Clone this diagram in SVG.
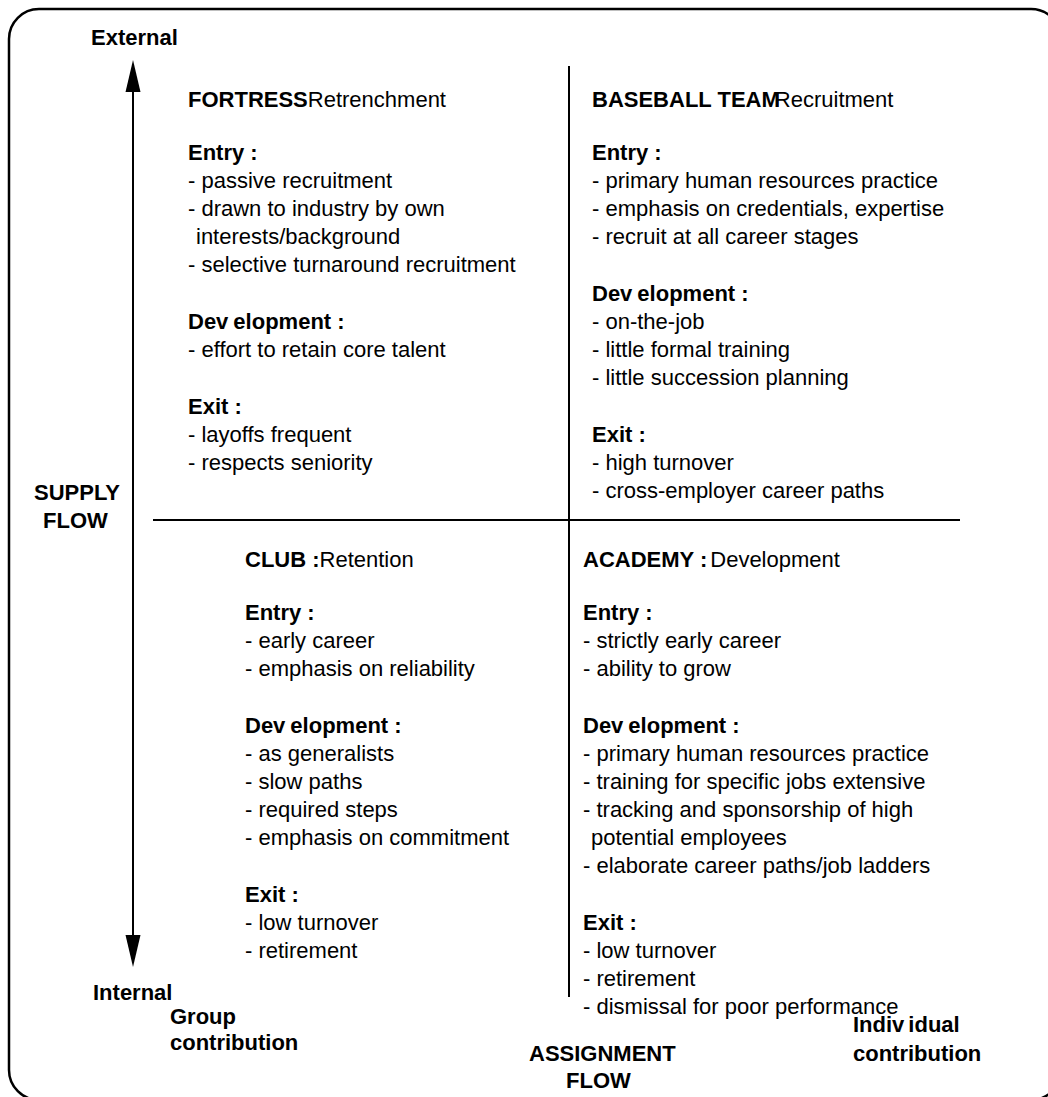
<svg xmlns="http://www.w3.org/2000/svg" width="1048" height="1097" viewBox="0 0 1048 1097">
  <defs>
    <style>
      text { font-family: "Liberation Sans", Arial, Helvetica, sans-serif; font-size: 22px; fill: #000; }
      .b { font-weight: bold; }
      .rule { stroke: #000; stroke-width: 2; fill: none; }
      .frame { stroke: #000; stroke-width: 2.5; fill: #fff; }
    </style>
    <marker id="head" viewBox="0 0 32 16" markerWidth="32" markerHeight="16" refX="0" refY="8" orient="auto-start-reverse" markerUnits="userSpaceOnUse">
      <path d="M0,0.5 L32,8 L0,15.5 z" fill="#000"/>
    </marker>
  </defs>

  <!-- outer rounded frame (runs past the right and bottom edges) -->
  <rect id="frame" class="frame" x="9" y="9" width="1052" height="1091" rx="30" ry="30"/>

  <!-- axes and quadrant dividers -->
  <g id="connectors">
    <line id="supply-axis" class="rule" x1="133" y1="92" x2="133" y2="935" marker-start="url(#head)" marker-end="url(#head)"/>
    <line id="divider-v" class="rule" x1="569" y1="66" x2="569" y2="997"/>
    <line id="divider-h" class="rule" x1="153" y1="520" x2="960" y2="520"/>
  </g>

  <!-- axis labels -->
  <g id="label-external"><text class="b" x="91" y="45">External</text></g>
  <g id="label-supply">
    <text class="b" x="34" y="500">SUPPLY</text>
    <text class="b" x="43" y="528">FLOW</text>
  </g>
  <g id="label-internal"><text class="b" x="93" y="1000">Internal</text></g>
  <g id="label-group">
    <text class="b" x="170" y="1024">Group</text>
    <text class="b" x="170" y="1050">contribution</text>
  </g>
  <g id="label-assignment">
    <text class="b" x="529" y="1061">ASSIGNMENT</text>
    <text class="b" x="566" y="1088">FLOW</text>
  </g>
  <g id="label-individual">
    <text class="b" x="853" y="1032">Indiv<tspan dx="4">idual</tspan></text>
    <text class="b" x="853" y="1061">contribution</text>
  </g>

  <!-- top-left quadrant -->
  <g id="fortress">
    <text x="188" y="107"><tspan class="b">FORTRESS</tspan>Retrenchment</text>
    <text class="b" x="188" y="160">Entry :</text>
    <text x="188" y="188">- passive recruitment</text>
    <text x="188" y="216">- drawn to industry by own</text>
    <text x="196" y="244">interests/background</text>
    <text x="188" y="272">- selective turnaround recruitment</text>
    <text class="b" x="188" y="329">Dev<tspan dx="5">elopment :</tspan></text>
    <text x="188" y="357">- effort to retain core talent</text>
    <text class="b" x="188" y="414">Exit :</text>
    <text x="188" y="442">- layoffs frequent</text>
    <text x="188" y="470">- respects seniority</text>
  </g>

  <!-- top-right quadrant -->
  <g id="baseball-team">
    <text x="592" y="107"><tspan class="b">BASEBALL TEAM</tspan><tspan dx="-5">Recruitment</tspan></text>
    <text class="b" x="592" y="160">Entry :</text>
    <text x="592" y="188">- primary human resources practice</text>
    <text x="592" y="216">- emphasis on credentials, expertise</text>
    <text x="592" y="244">- recruit at all career stages</text>
    <text class="b" x="592" y="301">Dev<tspan dx="5">elopment :</tspan></text>
    <text x="592" y="329">- on-the-job</text>
    <text x="592" y="357">- little formal training</text>
    <text x="592" y="385">- little succession planning</text>
    <text class="b" x="592" y="442">Exit :</text>
    <text x="592" y="470">- high turnover</text>
    <text x="592" y="498">- cross-employer career paths</text>
  </g>

  <!-- bottom-left quadrant -->
  <g id="club">
    <text x="245" y="567"><tspan class="b">CLUB :</tspan>Retention</text>
    <text class="b" x="245" y="620">Entry :</text>
    <text x="245" y="648">- early career</text>
    <text x="245" y="676">- emphasis on reliability</text>
    <text class="b" x="245" y="733">Dev<tspan dx="5">elopment :</tspan></text>
    <text x="245" y="761">- as generalists</text>
    <text x="245" y="789">- slow paths</text>
    <text x="245" y="817">- required steps</text>
    <text x="245" y="845">- emphasis on commitment</text>
    <text class="b" x="245" y="902">Exit :</text>
    <text x="245" y="930">- low turnover</text>
    <text x="245" y="958">- retirement</text>
  </g>

  <!-- bottom-right quadrant -->
  <g id="academy">
    <text x="583" y="567"><tspan class="b">ACADEMY :</tspan><tspan dx="3">Development</tspan></text>
    <text class="b" x="583" y="620">Entry :</text>
    <text x="583" y="648">- strictly early career</text>
    <text x="583" y="676">- ability to grow</text>
    <text class="b" x="583" y="733">Dev<tspan dx="5">elopment :</tspan></text>
    <text x="583" y="761">- primary human resources practice</text>
    <text x="583" y="789">- training for specific jobs extensive</text>
    <text x="583" y="817">- tracking and sponsorship of high</text>
    <text x="591" y="845">potential employees</text>
    <text x="583" y="873">- elaborate career paths/job ladders</text>
    <text class="b" x="583" y="930">Exit :</text>
    <text x="583" y="958">- low turnover</text>
    <text x="583" y="986">- retirement</text>
    <text x="583" y="1014">- dismissal for poor performance</text>
  </g>
</svg>
